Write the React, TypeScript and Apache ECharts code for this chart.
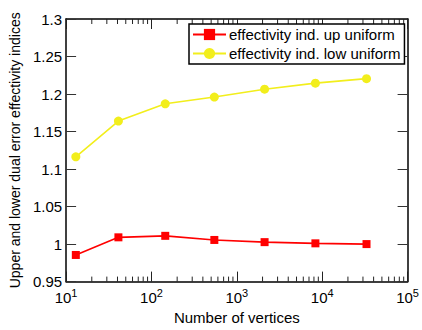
import React, { useEffect, useRef } from 'react';
import * as echarts from 'echarts';

const vertices = [13, 41, 145, 545, 2113, 8321, 33025];
const upUniform = [0.9855, 1.009, 1.011, 1.0055, 1.0026, 1.001, 1.0];
const lowUniform = [1.1163, 1.164, 1.187, 1.196, 1.2064, 1.2145, 1.2205];
const seriesNames = ['effectivity ind. up uniform', 'effectivity ind. low uniform'];
const xAxisName = 'Number of vertices';
const yAxisName = 'Upper and lower dual error effectivity indices';
const xMin = 10;
const xMax = 100000;
const yMin = 0.95;
const yMax = 1.3;
const yStep = 0.05;

const minorTicks: number[] = [];
for (let d = 1; d <= 4; d++) {
  for (let k = 2; k <= 9; k++) minorTicks.push(k * Math.pow(10, d));
}

const FONT = 'Liberation Sans, Arial, sans-serif';

export default function App() {
  const ref = useRef<HTMLDivElement>(null);
  useEffect(() => {
    if (!ref.current) return;
    const chart = echarts.init(ref.current, undefined, { renderer: 'svg' });
    const xBase = {
      type: 'log' as const,
      logBase: 10,
      min: xMin,
      max: xMax,
      splitLine: { show: false },
      axisLine: { show: true, onZero: false, lineStyle: { color: '#000', width: 1.5 } },
      axisTick: { show: true, inside: true, length: 10, lineStyle: { color: '#222', width: 1 } },
    };
    const yBase = {
      type: 'value' as const,
      min: yMin,
      max: yMax,
      interval: yStep,
      splitLine: { show: false },
      axisLine: { show: true, onZero: false, lineStyle: { color: '#000', width: 1.5 } },
      axisTick: { show: true, inside: true, length: 10, lineStyle: { color: '#333', width: 1 } },
    };
    chart.setOption({
      animation: false,
      textStyle: { fontFamily: FONT },
      grid: { left: 60, top: 19, right: 11, bottom: 38, containLabel: false },
      legend: {
        data: seriesNames,
        orient: 'vertical',
        left: 189,
        top: 24,
        padding: [3, 4, 3, 3],
        itemGap: 4,
        itemWidth: 33,
        itemHeight: 14,
        backgroundColor: '#fff',
        borderColor: '#000',
        borderWidth: 1.5,
        borderRadius: 0,
        textStyle: { fontFamily: FONT, fontSize: 15, color: '#000', padding: [0, 0, 0, -2] },
      },
      xAxis: [
        {
          ...xBase,
          position: 'bottom',
          name: xAxisName,
          nameLocation: 'middle',
          nameGap: 22,
          nameTextStyle: { fontFamily: FONT, fontSize: 15, color: '#000' },
          axisLabel: {
            show: true,
            margin: 6,
            color: '#000',
            fontFamily: FONT,
            fontSize: 15,
            formatter: (v: number) => '10{sup|' + Math.round(Math.log10(v)) + '}',
            rich: {
              sup: { fontSize: 11, fontFamily: FONT, color: '#000', padding: [0, 0, 9, 0] },
            },
          },
        },
        {
          ...xBase,
          position: 'top',
          axisLabel: { show: false },
        },
      ],
      yAxis: [
        {
          ...yBase,
          position: 'left',
          name: yAxisName,
          nameLocation: 'middle',
          nameGap: 37,
          nameTextStyle: { fontFamily: FONT, fontSize: 14, color: '#000' },
          axisLabel: {
            show: true,
            margin: 4,
            color: '#000',
            fontFamily: FONT,
            fontSize: 15,
            formatter: (v: number) => String(parseFloat(v.toFixed(2))),
          },
        },
        {
          ...yBase,
          position: 'right',
          axisLabel: { show: false },
        },
      ],
      series: [
        {
          name: seriesNames[0],
          type: 'line',
          data: vertices.map((x, i) => [x, upUniform[i]]),
          symbol: 'rect',
          symbolSize: 8,
          itemStyle: { color: '#ff0000' },
          lineStyle: { color: '#ff0000', width: 1.6 },
          xAxisIndex: 0,
          yAxisIndex: 0,
        },
        {
          name: seriesNames[1],
          type: 'line',
          data: vertices.map((x, i) => [x, lowUniform[i]]),
          symbol: 'circle',
          symbolSize: 9,
          itemStyle: { color: '#f2ee1c' },
          lineStyle: { color: '#f2ee1c', width: 1.6 },
          xAxisIndex: 0,
          yAxisIndex: 0,
        },
        {
          type: 'custom',
          silent: true,
          xAxisIndex: 0,
          yAxisIndex: 0,
          data: minorTicks.map((v) => [v, 1]),
          encode: { x: 0 },
          renderItem: (params: any, api: any) => {
            const v = api.value(0);
            const b = api.coord([v, yMin]);
            const t = api.coord([v, yMax]);
            return {
              type: 'group',
              children: [
                { type: 'line', shape: { x1: b[0], y1: b[1], x2: b[0], y2: b[1] - 5 }, style: { stroke: '#222', lineWidth: 1 } },
                { type: 'line', shape: { x1: t[0], y1: t[1], x2: t[0], y2: t[1] + 5 }, style: { stroke: '#222', lineWidth: 1 } },
              ],
            };
          },
        },
      ],
    });
    return () => chart.dispose();
  }, []);
  return <div ref={ref} style={{ width: 422, height: 330, position: 'absolute', left: 0, top: 0, background: '#fff' }} />;
}
